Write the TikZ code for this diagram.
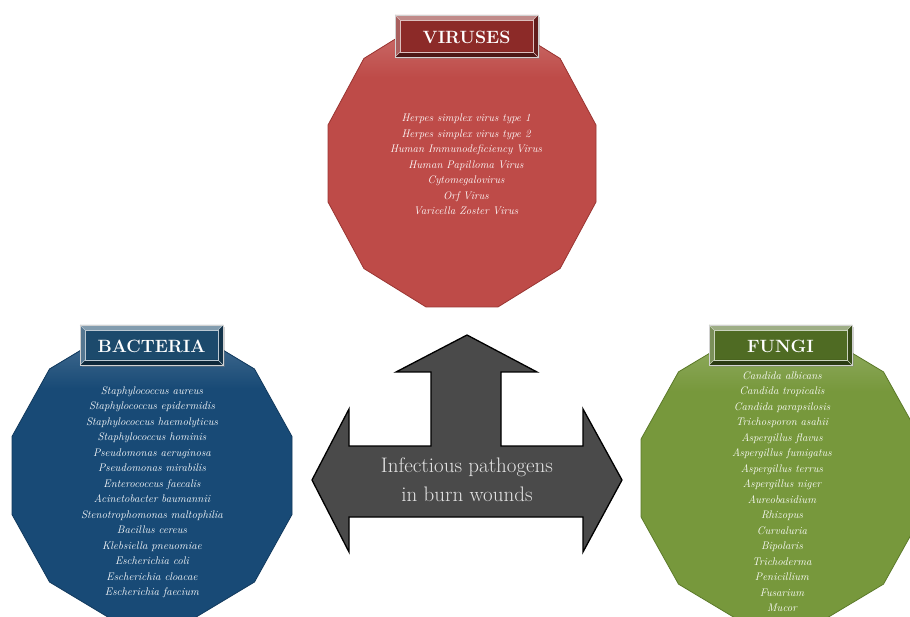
\documentclass[tikz,border=0pt]{standalone}
\usetikzlibrary{shadows}

% palette
\definecolor{virusred}{HTML}{BE4B48}
\definecolor{virusedge}{HTML}{9A3532}
\definecolor{virusdark}{HTML}{8C2A28}
\definecolor{bactblue}{HTML}{184A76}
\definecolor{bactedge}{HTML}{123A5E}
\definecolor{bactdark}{HTML}{1C4A6C}
\definecolor{fungigreen}{HTML}{77983C}
\definecolor{fungiedge}{HTML}{5C7A2A}
\definecolor{fungidark}{HTML}{4F6B23}
\definecolor{hubgray}{HTML}{4A4A4A}
\definecolor{hubtext}{HTML}{E4E4E4}

\tikzset{
  listtext/.style={text=white, align=center, inner sep=0pt,
    font=\itshape\fontsize{11}{15.5}\selectfont},
  titletext/.style={text=white, inner sep=0pt,
    font=\bfseries\fontsize{17.8}{20}\selectfont},
  hubshape/.style={fill=hubgray, draw=black, line width=1.3pt, line join=miter},
  hublabel/.style={text=hubtext, align=center, inner sep=0pt,
    font=\fontsize{21}{29}\selectfont},
}

% outline of a regular dodecagon inscribed in the box (L,T) with width W and height H
\newcommand\dodecapts[4]{({#1},{#2+0.366*#4}) -- ({#1+0.134*#3},{#2+0.134*#4})
    -- ({#1+0.366*#3},{#2}) -- ({#1+0.634*#3},{#2})
    -- ({#1+0.866*#3},{#2+0.134*#4}) -- ({#1+#3},{#2+0.366*#4})
    -- ({#1+#3},{#2+0.634*#4}) -- ({#1+0.866*#3},{#2+0.866*#4})
    -- ({#1+0.634*#3},{#2+#4}) -- ({#1+0.366*#3},{#2+#4})
    -- ({#1+0.134*#3},{#2+0.866*#4}) -- ({#1},{#2+0.634*#4}) -- cycle}

% filled dodecagon with a soft highlight along its top: L, T, W, H, fill, edge
\newcommand\dodecagon[6]{%
  \fill[#5] \dodecapts{#1}{#2}{#3}{#4};
  \begin{scope}
    \clip \dodecapts{#1}{#2}{#3}{#4};
    \shade[top color=#5!78!white, bottom color=#5]
      ({#1},{#2}) rectangle ({#1+#3},{#2+0.2*#4});
  \end{scope}
  \draw[#6, line width=0.8pt] \dodecapts{#1}{#2}{#3}{#4};}

% bevelled title plate: name, x1, y1, x2, y2, colour, text
\newcommand\titleplate[7]{%
  \fill[#6, drop shadow={opacity=0.35, shadow xshift=1.5pt, shadow yshift=-2pt}]
    (#2,#3) rectangle (#4,#5);
  \fill[#6!55!white] (#2,#3) -- (#4,#3) -- ({#4-5},{#3+5}) -- ({#2+5},{#3+5}) -- cycle;
  \fill[#6!75!white] (#2,#3) -- ({#2+5},{#3+5}) -- ({#2+5},{#5-5}) -- (#2,#5) -- cycle;
  \fill[#6!70!black] (#4,#3) -- (#4,#5) -- ({#4-5},{#5-5}) -- ({#4-5},{#3+5}) -- cycle;
  \fill[#6!55!black] (#2,#5) -- (#4,#5) -- ({#4-5},{#5-5}) -- ({#2+5},{#5-5}) -- cycle;
  \draw[#6!30!white, line width=0.5pt] ({#2+5},{#3+5}) rectangle ({#4-5},{#5-5});
  \draw[#6!30!white, line width=0.5pt]
    (#2,#3) -- ({#2+5},{#3+5}) (#4,#3) -- ({#4-5},{#3+5})
    (#2,#5) -- ({#2+5},{#5-5}) (#4,#5) -- ({#4-5},{#5-5});
  \draw[gray!35, line width=0.8pt] (#2,#3) rectangle (#4,#5);
  \node[titletext] (#1) at ({(#2+#4)/2},{(#3+#5)/2+1}) {#7};}

\begin{document}
\begin{tikzpicture}[x=1pt, y=-1pt]
\useasboundingbox (0,0) rectangle (910,617);
\clip (0,0) rectangle (910,617);
\fill[white] (0,0) rectangle (910,617);

% ---- viruses ----
\dodecagon{328}{20}{268}{287}{virusred}{virusedge}
\node[listtext] (vir-list) at (466,164.5) {Herpes simplex virus type 1\\
  Herpes simplex virus type 2\\ Human Immunodeficiency Virus\\
  Human Papilloma Virus\\ Cytomegalovirus\\ Orf Virus\\ Varicella Zoster Virus};
\titleplate{vir-title}{395}{15}{538}{57}{virusdark}{VIRUSES}

% ---- bacteria ----
\dodecagon{12}{330}{280}{291}{bactblue}{bactedge}
\node[listtext] (bac-list) at (152,492) {Staphylococcus aureus\\
  Staphylococcus epidermidis\\ Staphylococcus haemolyticus\\
  Staphylococcus hominis\\ Pseudomonas aeruginosa\\ Pseudomonas mirabilis\\
  Enterococcus faecalis\\ Acinetobacter baumannii\\
  Stenotrophomonas maltophilia\\ Bacillus cereus\\ Klebsiella pneuomiae\\
  Escherichia coli\\ Escherichia cloacae\\ Escherichia faecium};
\titleplate{bac-title}{80}{325}{223}{365}{bactdark}{BACTERIA}

% ---- fungi ----
\dodecagon{641}{333}{280}{290}{fungigreen}{fungiedge}
\node[listtext] (fun-list) at (782,491.5) {Candida albicans\\
  Candida tropicalis\\ Candida parapsilosis\\ Trichosporon asahii\\
  Aspergillus flavus\\ Aspergillus fumigatus\\ Aspergillus terrus\\
  Aspergillus niger\\ Aureobasidium\\ Rhizopus\\ Curvaluria\\ Bipolaris\\
  Trichoderma\\ Penicillium\\ Fusarium\\ Mucor};
\titleplate{fun-title}{709}{325}{852}{365}{fungidark}{FUNGI}

% ---- central three-way arrow ----
\draw[hubshape] (467,335) -- (537,372) -- (501,372) -- (501,446) -- (583,446)
  -- (583,409) -- (622,480) -- (583,552) -- (583,517) -- (349,517)
  -- (349,552) -- (312,480) -- (349,409) -- (349,446) -- (431,446)
  -- (431,372) -- (396,372) -- cycle;
\node[hublabel] (hub-text) at (467,479.5) {Infectious pathogens\\ in burn wounds};
\end{tikzpicture}
\end{document}
